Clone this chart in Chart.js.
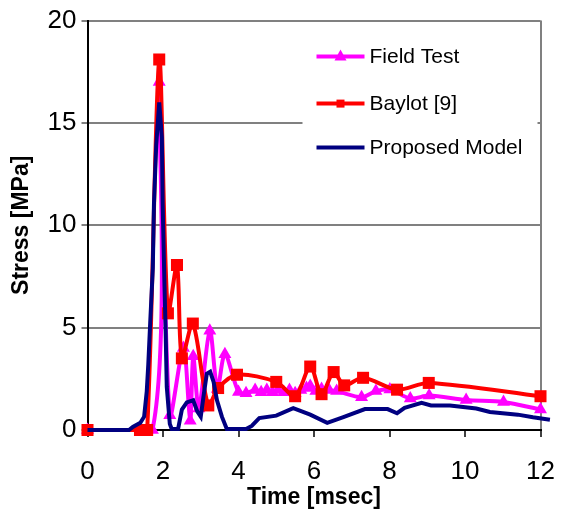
<!DOCTYPE html>
<html>
<head>
<meta charset="utf-8">
<script src="https://cdn.jsdelivr.net/npm/chart.js@4.4.1/dist/chart.umd.min.js"></script>
<style>
  body { margin: 0; background: #fff; }
  canvas { display: block; }
</style>
</head>
<body>
<canvas id="myChart" width="566" height="516"></canvas>
<script>
// values (time in msec, stress in MPa)
var seriesNames = ['Field Test', 'Baylot [9]', 'Proposed Model'];

var fieldTime = [0, 1.72, 1.9, 2.18, 2.54, 2.72, 2.8, 2.95, 3.24, 3.44, 3.64, 4.0,
	4.2, 4.44, 4.6, 4.75, 4.9, 5.05, 5.2, 5.35, 5.5, 5.65, 5.8, 5.9, 6.05, 6.2, 6.4, 6.6,
	7.26, 7.64, 8.01, 8.55, 9.05, 10.03, 11.02, 12.0];
var fieldStress = [0, 0, 17.0, 0.72, 4.0, 0.45, 3.6, 1.05, 4.85, 2.0, 3.7, 1.86,
	1.8, 1.95, 1.85, 1.95, 1.85, 1.95, 1.85, 1.95, 1.8, 1.95, 2.05, 2.15, 1.9, 2.0, 1.95, 1.9,
	1.6, 1.9, 1.98, 1.54, 1.68, 1.46, 1.37, 1.0];

var baylotTime = [0, 1.39, 1.58, 1.9, 2.13, 2.37, 2.5, 2.79, 3.2, 3.46, 3.96,
	5.0, 5.5, 5.9, 6.2, 6.52, 6.8, 7.3, 8.2, 9.04, 12.0];
var baylotStress = [0, 0, 0, 18.1, 5.7, 8.06, 3.5, 5.2, 1.2, 2.05, 2.7,
	2.35, 1.65, 3.1, 1.75, 2.83, 2.18, 2.55, 1.97, 2.3, 1.65];

var modelTime = [0, 1.1, 1.2, 1.4, 1.5, 1.57, 1.61, 1.66, 1.73, 1.76, 1.82, 1.9, 1.97, 1.99,
	2.04, 2.07, 2.1, 2.18, 2.23, 2.4, 2.5, 2.63, 2.8, 2.91, 3.0, 3.07, 3.16, 3.25, 3.34,
	3.43, 3.56, 3.69, 4.2, 4.35, 4.55, 5.0, 5.45, 5.9, 6.35, 6.76, 7.35, 7.95, 8.2, 8.4,
	8.85, 9.1, 9.6, 10.3, 10.66, 11.4, 11.8, 12.25];
var modelStress = [0, 0, 0.15, 0.35, 0.65, 1.9, 3.2, 5.2, 7.9, 11.0, 13.9, 16.0, 14.3, 11.1,
	7.0, 4.8, 2.1, 0.3, 0.05, 0.05, 1.0, 1.35, 1.45, 0.9, 0.65, 1.6, 2.75, 2.85, 2.35,
	1.45, 0.65, 0.05, 0.05, 0.2, 0.58, 0.7, 1.07, 0.75, 0.35, 0.62, 1.02, 1.02, 0.82, 1.08,
	1.33, 1.2, 1.2, 1.05, 0.88, 0.75, 0.62, 0.5];

var xTicks = [0, 2, 4, 6, 8, 10, 12];
var yTicks = [0, 5, 10, 15, 20];

var colors = ['#FF00FF', '#FF0000', '#000080'];
var fontName = '"Liberation Sans", Arial, sans-serif';

function toPoints(xs, ys) {
	return xs.map(function(x, i) { return { x: x, y: ys[i] }; });
}

// legend drawn inside the plot like the original
var insideLegend = {
	id: 'insideLegend',
	afterDatasetsDraw: function(chart) {
		var ctx = chart.ctx;
		var area = chart.chartArea;
		var left = area.right - 238;
		var top = area.top + 14;
		ctx.save();
		ctx.fillStyle = '#fff';
		ctx.fillRect(left, top, 235, 140);
		var rows = [top + 22, top + 69, top + 113];
		for (var i = 0; i < 3; i++) {
			var y = rows[i];
			ctx.strokeStyle = colors[i];
			ctx.lineWidth = 4;
			ctx.beginPath();
			ctx.moveTo(left + 14, y);
			ctx.lineTo(left + 62, y);
			ctx.stroke();
			ctx.fillStyle = colors[i];
			var cx = left + 38;
			if (i == 0) {
				ctx.beginPath();
				ctx.moveTo(cx, y - 7);
				ctx.lineTo(cx + 6, y + 4);
				ctx.lineTo(cx - 6, y + 4);
				ctx.closePath();
				ctx.fill();
			} else if (i == 1) {
				ctx.fillRect(cx - 4, y - 4, 8, 8);
			}
			ctx.fillStyle = '#000';
			ctx.font = '21px ' + fontName;
			ctx.textBaseline = 'middle';
			ctx.textAlign = 'left';
			ctx.fillText(seriesNames[i], left + 67, y + 1);
		}
		ctx.restore();
	}
};

var ctx = document.getElementById('myChart');
var myChart = new Chart(ctx, {
	type: 'line',
	data: {
		datasets: [{
			label: seriesNames[0],
			data: toPoints(fieldTime, fieldStress),
			borderColor: colors[0],
			backgroundColor: colors[0],
			borderWidth: 4,
			pointStyle: 'triangle',
			pointRadius: 7.5,
			pointBorderWidth: 0,
			tension: 0.3,
			clip: false,
			order: 3
		}, {
			label: seriesNames[1],
			data: toPoints(baylotTime, baylotStress),
			borderColor: colors[1],
			backgroundColor: colors[1],
			borderWidth: 4,
			pointStyle: 'rect',
			pointRadius: 8.5,
			pointBorderWidth: 0,
			tension: 0.3,
			clip: false,
			order: 2
		}, {
			label: seriesNames[2],
			data: toPoints(modelTime, modelStress),
			borderColor: colors[2],
			backgroundColor: colors[2],
			borderWidth: 4,
			pointRadius: 0,
			tension: 0,
			clip: false,
			order: 1
		}]
	},
	options: {
		responsive: false,
		animation: false,
		layout: { padding: { left: 0, right: 25.5, top: 19, bottom: 0 } },
		plugins: {
			legend: { display: false },
			tooltip: { enabled: false }
		},
		scales: {
			x: {
				type: 'linear',
				min: 0,
				max: 12,
				afterFit: function(s) {
					s.height = 86;
					s.paddingLeft = 0;
					s.paddingRight = 0;
				},
				afterBuildTicks: function(s) { s.ticks = xTicks.map(function(v) { return { value: v }; }); },
				ticks: {
					color: '#000',
					font: { family: fontName, size: 26 },
					padding: 19,
					maxRotation: 0
				},
				grid: {
					color: function(c) { return c.tick && c.tick.value === 12 ? '#808080' : 'rgba(0,0,0,0)'; },
					tickColor: '#404040',
					lineWidth: 2,
					tickLength: 7
				},
				border: { color: '#000', width: 2 },
				title: {
					display: true,
					text: 'Time [msec]',
					color: '#000',
					font: { family: fontName, size: 23, weight: 'bold' },
					padding: { top: 0, bottom: 5 }
				}
			},
			y: {
				min: 0,
				max: 20,
				afterFit: function(s) { s.width = 87.5; },
				afterBuildTicks: function(s) { s.ticks = yTicks.map(function(v) { return { value: v }; }); },
				ticks: {
					color: '#000',
					font: { family: fontName, size: 26 },
					padding: 5
				},
				grid: {
					color: '#808080',
					lineWidth: 2,
					tickLength: 6
				},
				border: { color: '#000', width: 2 },
				title: {
					display: true,
					text: 'Stress [MPa]',
					color: '#000',
					font: { family: fontName, size: 23, weight: 'bold' },
					padding: { top: 8, bottom: 0 }
				}
			}
		}
	},
	plugins: [insideLegend]
});
</script>
</body>
</html>
